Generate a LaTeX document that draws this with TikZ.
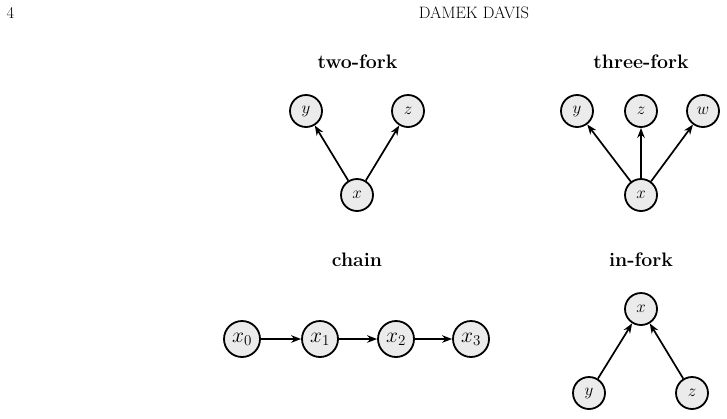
\documentclass[tikz,border=0pt]{standalone}
\usepackage{fix-cm}
\usetikzlibrary{arrows.meta}
\definecolor{nodegray}{RGB}{235,235,235}
\tikzset{
  vnode/.style={circle,draw=black,line width=1.8pt,fill=nodegray,minimum size=32pt,inner sep=1pt,font=\fontsize{17}{20}\selectfont},
  cnode/.style={vnode,minimum size=36pt,font=\fontsize{21.5}{24}\selectfont},
  ttl/.style={font=\fontsize{19.5}{23}\selectfont\bfseries},
  hdr/.style={font=\fontsize{16.5}{19}\selectfont},
  edge/.style={line width=1.7pt,-{Stealth[length=10pt,width=7.5pt]}}
}
\begin{document}
\begin{tikzpicture}[x=1pt,y=-1pt]
\useasboundingbox (0,0) rectangle (727,418);
% header
\node[hdr] (pg) at (10.5,13) {4};
\node[hdr] (rh) at (474,13) {DAMEK DAVIS};
% two-fork
\node[ttl] (t1) at (357.5,62) {two-fork};
\node[vnode] (a y) at (306,111) {$y$};
\node[vnode] (a z) at (408,111) {$z$};
\node[vnode] (a x) at (357,195) {$x$};
\draw[edge] (a x) -- (a y);
\draw[edge] (a x) -- (a z);
% three-fork
\node[ttl] (t2) at (641,62) {three-fork};
\node[vnode] (b y) at (577,111) {$y$};
\node[vnode] (b z) at (641,111) {$z$};
\node[vnode] (b w) at (703,111) {$w$};
\node[vnode] (b x) at (641,195) {$x$};
\draw[edge] (b x) -- (b y);
\draw[edge] (b x) -- (b z);
\draw[edge] (b x) -- (b w);
% chain
\node[ttl] (t3) at (357,260) {chain};
\node[cnode] (c0) at (242,339) {$x_0$};
\node[cnode] (c1) at (320,339) {$x_1$};
\node[cnode] (c2) at (396,339) {$x_2$};
\node[cnode] (c3) at (471,339) {$x_3$};
\draw[edge] (c0) -- (c1);
\draw[edge] (c1) -- (c2);
\draw[edge] (c2) -- (c3);
% in-fork
\node[ttl] (t4) at (641,260) {in-fork};
\node[vnode] (d x) at (641,309) {$x$};
\node[vnode] (d y) at (589,393) {$y$};
\node[vnode] (d z) at (692,393) {$z$};
\draw[edge] (d y) -- (d x);
\draw[edge] (d z) -- (d x);
\end{tikzpicture}
\end{document}
